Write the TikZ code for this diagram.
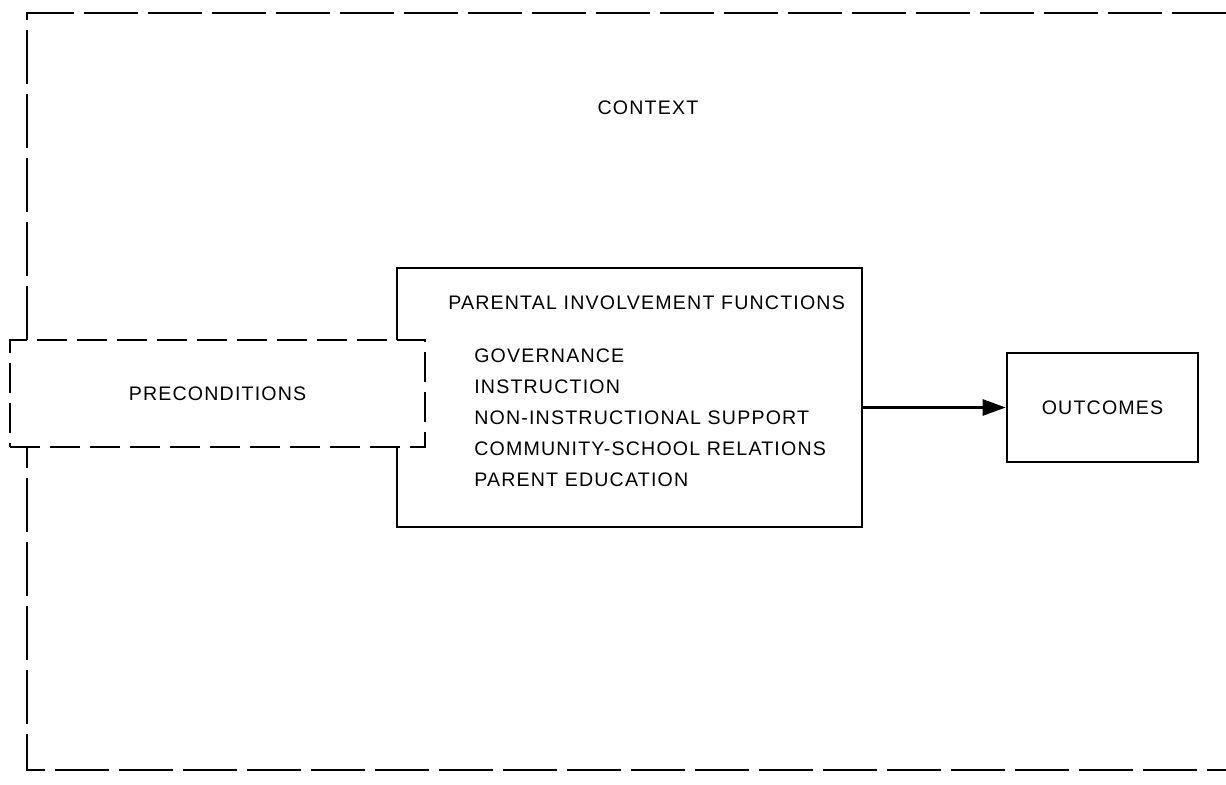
\documentclass[tikz,border=0pt]{standalone}
\usepackage{fontspec}
\newfontfamily\labelfont[LetterSpace=6.0]{Liberation Sans}
\usepackage{tikz}
\usetikzlibrary{positioning, arrows.meta}
\tikzset{x=0.5pt, y=-0.5pt, % one unit is one pixel of the scan
font=\labelfont\fontsize{9.8}{15.5}\selectfont,
solidbox/.style={draw, rectangle, inner sep=0pt}, % the plain boxes
ctxline/.style={dash pattern=on 27pt off 5pt}, % long dashes of the context frame
prebox/.style={draw, rectangle, fill=white, inner sep=0pt, dash pattern=on 15pt off 5pt}, % dashed box drawn over the frame
}

\begin{document}
\begin{tikzpicture}[line width=1.3pt]
\useasboundingbox (0,0) rectangle (1226,785);
% context frame, open on the right
\coordinate (ctr) at (1226,13);
\coordinate (ctl) at (27,13);
\coordinate (cbl) at (27,770);
\coordinate (cbr) at (1226,770);
\draw[ctxline] (ctr) -- (ctl) -- (cbl) -- (cbr);
\node (ctx) at (648,108) {CONTEXT};

\node[solidbox, minimum width=232.5pt, minimum height=129.5pt] (pif) at (629.5,397.5) {};
\node[anchor=west, inner sep=0pt] (piftitle) at (447,303) {PARENTAL INVOLVEMENT FUNCTIONS};
\node[anchor=north west, inner sep=0pt, align=left] (piflist) at (473,348)
{GOVERNANCE\\ INSTRUCTION\\ NON-INSTRUCTIONAL SUPPORT\\ COMMUNITY-SCHOOL RELATIONS\\ PARENT EDUCATION};

\node[prebox, minimum width=207.5pt, minimum height=53.5pt] (pre) at (217.5,393.5) {PRECONDITIONS};

\node[solidbox, minimum width=95.5pt, minimum height=54.5pt] (out) at (1102.5,407.5) {OUTCOMES};

\draw[-{Triangle[length=11.5pt, width=8pt]}] (pif.east |- out.west) -- (out.west);

\end{tikzpicture}
\end{document}
